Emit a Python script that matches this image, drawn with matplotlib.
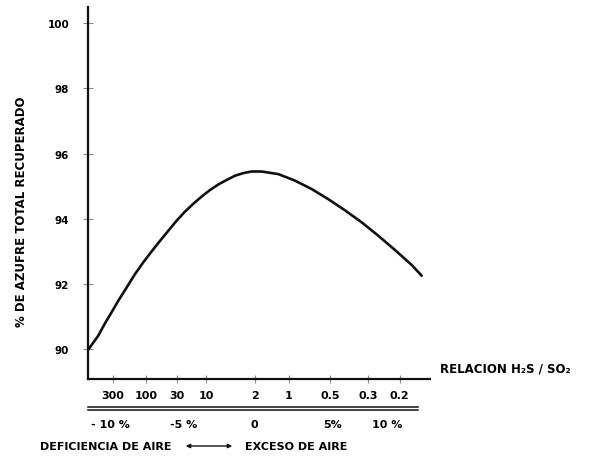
import matplotlib
matplotlib.use('Agg')
import matplotlib.pyplot as plt

# Recovered sulfur versus air excess (%), read as points along the curve
exceso_aire = [-11.76, -11.03, -10.55, -10.08, -9.61, -9.01, -8.42, -7.83, -7.23,
               -6.64, -6.05, -5.46, -4.86, -4.27, -3.68, -3.09, -2.50, -1.90,
               -1.31, -0.72, -0.12, 0.59, 1.77, 2.96, 4.15, 5.33, 6.51, 7.70,
               8.88, 10.07, 11.26, 11.97]
azufre = [89.97, 90.41, 90.79, 91.13, 91.48, 91.89, 92.30, 92.66, 93.00,
          93.32, 93.63, 93.94, 94.22, 94.46, 94.68, 94.88, 95.05, 95.19,
          95.32, 95.40, 95.45, 95.45, 95.37, 95.17, 94.91, 94.60, 94.26, 93.89,
          93.48, 93.04, 92.58, 92.25]

# H2S/SO2 ratio scale, placed against the air-excess scale
relacion_labels = ['300', '100', '30', '10', '2', '1', '0.5', '0.3', '0.2']
relacion_pos = [-9.99, -7.64, -5.43, -3.37, 0.11, 2.53, 5.45, 8.15, 10.4]

# Air-excess scale
pct_labels = ['- 10 %', '-5 %', '0', '5%', '10 %']
pct_pos = [-10.15, -4.95, 0.1, 5.6, 9.5]

y_ticks = [90, 92, 94, 96, 98, 100]

plt.rcParams['font.family'] = 'DejaVu Sans'
plt.rcParams['font.weight'] = 'bold'

fig = plt.figure(figsize=(5.93, 4.60), dpi=100)
ax = fig.add_axes([88 / 593, 80 / 460, 342 / 593, 372 / 460])

ax.plot(exceso_aire, azufre, color='#111111', lw=1.9, solid_capstyle='round',
        solid_joinstyle='round')

ax.set_xlim(-11.76, 12.56)
ax.set_ylim(89.08, 100.5)

for side in ['top', 'right']:
    ax.spines[side].set_visible(False)
for side in ['left', 'bottom']:
    ax.spines[side].set_linewidth(1.6)
    ax.spines[side].set_color('#111111')

ax.set_yticks(y_ticks)
ax.set_yticklabels([str(v) for v in y_ticks], fontsize=7.5, fontweight='bold')
ax.tick_params(axis='y', direction='inout', length=7, width=0.8, color='0.55', pad=10)

ax.set_xticks(relacion_pos)
ax.set_xticklabels(relacion_labels, fontsize=8, fontweight='bold')
ax.tick_params(axis='x', direction='inout', length=6, width=0.8, color='0.55', pad=5)

fig.text(22 / 593, 1 - 212 / 460, '% DE AZUFRE TOTAL RECUPERADO', rotation=90,
         ha='center', va='center', fontsize=8.5, fontweight='bold')

# double rule separating the two horizontal scales
tr = ax.get_xaxis_transform()
for yy in [-0.075, -0.084]:
    ax.plot([-11.76, 11.7], [yy, yy], transform=tr, color='#111111', lw=1.1,
            clip_on=False)

for p, lab in zip(pct_pos, pct_labels):
    ax.text(p, -0.121, lab, transform=tr, ha='center', va='center',
            fontsize=8, fontweight='bold')

fig.text(440 / 593, 1 - 369 / 460, 'RELACION H₂S / SO₂', ha='left', va='center',
         fontsize=8.5, fontweight='bold')

fig.text(40 / 593, 1 - 447 / 460, 'DEFICIENCIA DE AIRE', ha='left', va='center',
         fontsize=8, fontweight='bold')
fig.text(245 / 593, 1 - 447 / 460, 'EXCESO DE AIRE', ha='left', va='center',
         fontsize=8, fontweight='bold')
fig.add_artist(matplotlib.patches.FancyArrowPatch(
    (183 / 593, 1 - 447 / 460), (235 / 593, 1 - 447 / 460),
    transform=fig.transFigure, arrowstyle='<|-|>', mutation_scale=6,
    color='#111111', lw=1.0))

fig.savefig('out.png', dpi=100)
